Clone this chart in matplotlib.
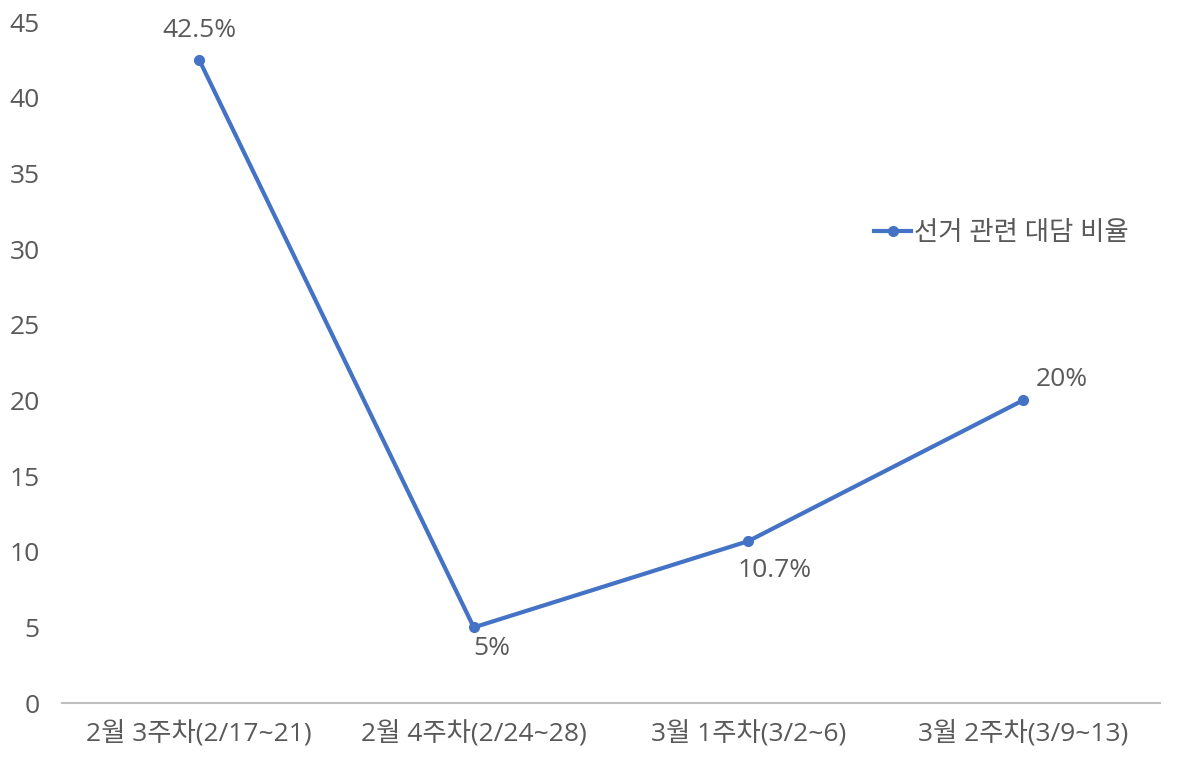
import matplotlib.pyplot as plt

plt.rcParams['font.family'] = ['Open Sans', 'Noto Sans CJK KR', 'DejaVu Sans']

weeks = ["2월 3주차(2/17~21)", "2월 4주차(2/24~28)", "3월 1주차(3/2~6)", "3월 2주차(3/9~13)"]
ratio = [42.5, 5, 10.7, 20]
point_labels = ["42.5%", "5%", "10.7%", "20%"]
series_name = "선거 관련 대담 비율"

LINE = "#4472C4"
TEXT = "#595959"
FS = 19

fig = plt.figure(figsize=(11.77, 7.65), dpi=100)
ax = fig.add_axes([0.0527, 0.081, 0.9329, 0.89])

x = range(len(weeks))
ax.plot(x, ratio, color=LINE, lw=3, marker="o", ms=7, label=series_name)

# label offsets in points (dx, dy)
offsets = [(0, 21), (13, -15), (19, -21), (28, 15)]
for xi, yi, lab, (dx, dy) in zip(x, ratio, point_labels, offsets):
    ax.annotate(lab, (xi, yi), textcoords="offset points", xytext=(dx, dy),
                ha="center", va="center", fontsize=FS, color=TEXT)

ax.set_xlim(-0.5, 3.5)
ax.set_ylim(0, 45)
ax.set_yticks(range(0, 50, 5))
ax.set_xticks(list(x))
ax.set_xticklabels(weeks)
ax.tick_params(axis="both", length=0, labelsize=FS, colors=TEXT)
ax.tick_params(axis="x", pad=13)
ax.tick_params(axis="y", pad=16)
for s in ["top", "right", "left"]:
    ax.spines[s].set_visible(False)
ax.spines["bottom"].set_color("#BFBFBF")
ax.spines["bottom"].set_linewidth(1.5)

leg = ax.legend(loc="center right", bbox_to_anchor=(0.993, 0.69), frameon=False,
                fontsize=FS, handlelength=1.4, handletextpad=0.1, labelcolor=TEXT)

fig.savefig("out.png", dpi=100)
